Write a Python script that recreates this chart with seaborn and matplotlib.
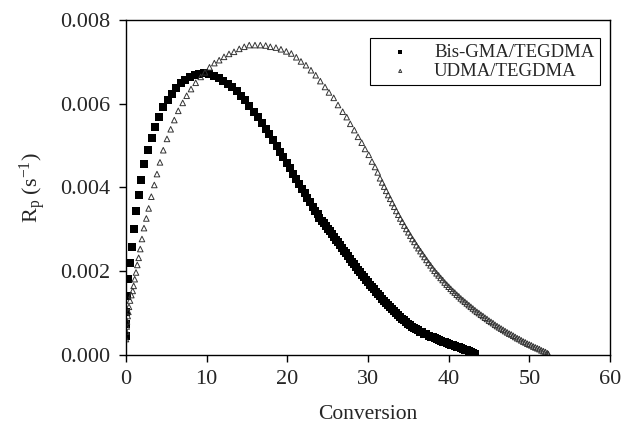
import matplotlib
matplotlib.use("Agg")
import matplotlib.pyplot as plt
import seaborn as sns
import pandas as pd

# Bis-GMA/TEGDMA (filled squares)
bis_conv = [0.02, 0.04, 0.05, 0.12, 0.29, 0.50, 0.71, 0.97, 1.26, 1.59, 1.92, 2.27,
            2.73, 3.19, 3.63, 4.13, 4.62, 5.17, 5.70, 6.20, 6.78, 7.35, 7.93, 8.52,
            9.09, 9.67, 10.33, 10.91, 11.49, 12.06, 12.61, 13.18, 13.72, 14.29, 14.79,
            15.28, 15.83, 16.36, 16.90, 17.32, 17.76, 18.26, 18.72, 19.13, 19.50, 19.92,
            20.29, 20.70, 21.04, 21.45, 21.82, 22.15, 22.47, 22.81, 23.14, 23.47, 23.76,
            23.96,
            24.25, 24.50, 24.75, 25.00, 25.25, 25.50, 25.75, 26.00, 26.25, 26.50, 26.75,
            27.00, 27.25, 27.50, 27.75, 28.00, 28.25, 28.50, 28.75, 29.00, 29.25, 29.50,
            29.75, 30.00, 30.25, 30.50, 30.75, 31.00, 31.25, 31.50, 31.75, 32.00, 32.25,
            32.50, 32.75, 33.00, 33.25, 33.50, 33.75, 34.00, 34.25, 34.50, 34.75, 35.00,
            35.25, 35.50, 35.75, 36.00, 36.25, 36.50, 36.75, 37.00, 37.25, 37.50, 37.75,
            38.00, 38.25, 38.50, 38.75, 39.00, 39.25, 39.50, 39.75, 40.00, 40.25, 40.50,
            40.75, 41.00, 41.25, 41.50, 41.75, 42.00, 42.25, 42.50, 42.75, 43.00, 43.25]
bis_rp = [0.00045, 0.00074, 0.00103, 0.00141, 0.00181, 0.00220, 0.00258, 0.00301,
          0.00344, 0.00382, 0.00418, 0.00456, 0.00490, 0.00518, 0.00544, 0.00568,
          0.00592, 0.00609, 0.00623, 0.00638, 0.00650, 0.00657, 0.00664, 0.00669,
          0.00671, 0.00673, 0.00671, 0.00666, 0.00661, 0.00654, 0.00648, 0.00640,
          0.00630, 0.00618, 0.00609, 0.00595, 0.00580, 0.00568, 0.00554, 0.00540,
          0.00528, 0.00513, 0.00499, 0.00485, 0.00473, 0.00459, 0.00447, 0.00432,
          0.00420, 0.00408, 0.00396, 0.00387, 0.00375, 0.00366, 0.00353, 0.00344,
          0.00337, 0.00327,
          0.00321, 0.00314, 0.00308, 0.00301, 0.00295, 0.00288, 0.00282, 0.00275,
          0.00269, 0.00262, 0.00256, 0.00249, 0.00243, 0.00236, 0.00230, 0.00223,
          0.00217, 0.00211, 0.00204, 0.00198, 0.00192, 0.00186, 0.00180, 0.00174,
          0.00168, 0.00162, 0.00157, 0.00151, 0.00145, 0.00140, 0.00134, 0.00129,
          0.00124, 0.00119, 0.00114, 0.00109, 0.00104, 0.00100, 0.00095, 0.00091,
          0.00087, 0.00083, 0.00079, 0.00075, 0.00072, 0.00068, 0.00065, 0.00062,
          0.00059, 0.00056, 0.00054, 0.00051, 0.00049, 0.00046, 0.00044, 0.00042,
          0.00040, 0.00038, 0.00036, 0.00034, 0.00032, 0.00030, 0.00029, 0.00027,
          0.00025, 0.00023, 0.00022, 0.00020, 0.00018, 0.00016, 0.00015, 0.00013,
          0.00011, 0.00009, 0.00007, 0.00005, 0.00002]

# UDMA/TEGDMA (open triangles)
udma_conv = [0.00, 0.04, 0.09, 0.12, 0.21, 0.29, 0.37, 0.50, 0.66, 0.83, 0.95, 1.08,
             1.24, 1.40, 1.57, 1.77, 1.98, 2.23, 2.52, 2.81, 3.14, 3.51, 3.84, 4.21,
             4.62, 5.08, 5.54, 5.99, 6.48, 7.03, 7.52, 8.06, 8.64, 9.26, 9.79, 10.35,
             10.95, 11.55, 12.15, 12.77, 13.39, 14.04, 14.66, 15.28, 15.99, 16.65, 17.32,
             17.89, 18.59, 19.21, 19.87, 20.49, 21.11, 21.69, 22.31, 22.93, 23.52, 24.09,
             24.67, 25.16, 25.75, 26.28, 26.86, 27.36, 27.80, 28.30, 28.76, 29.22, 29.63,
             30.09, 30.49, 30.87, 31.20, 31.49,
             31.75, 32.00, 32.25, 32.50, 32.75, 33.00, 33.25, 33.50, 33.75, 34.00, 34.25,
             34.50, 34.75, 35.00, 35.25, 35.50, 35.75, 36.00, 36.25, 36.50, 36.75, 37.00,
             37.25, 37.50, 37.75, 38.00, 38.25, 38.50, 38.75, 39.00, 39.25, 39.50, 39.75,
             40.00, 40.25, 40.50, 40.75, 41.00, 41.25, 41.50, 41.75, 42.00, 42.25, 42.50,
             42.75, 43.00, 43.25, 43.50, 43.75, 44.00, 44.25, 44.50, 44.75, 45.00, 45.25,
             45.50, 45.75, 46.00, 46.25, 46.50, 46.75, 47.00, 47.25, 47.50, 47.75, 48.00,
             48.25, 48.50, 48.75, 49.00, 49.25, 49.50, 49.75, 50.00, 50.25, 50.50, 50.75,
             51.00, 51.25, 51.50, 51.75, 52.00, 52.25, 52.35]
udma_rp = [0.00038, 0.00056, 0.00068, 0.00080, 0.00093, 0.00103, 0.00115, 0.00130,
           0.00143, 0.00153, 0.00165, 0.00181, 0.00197, 0.00215, 0.00232, 0.00253,
           0.00277, 0.00303, 0.00326, 0.00350, 0.00378, 0.00406, 0.00432, 0.00460,
           0.00489, 0.00516, 0.00539, 0.00561, 0.00583, 0.00602, 0.00619, 0.00635,
           0.00650, 0.00664, 0.00675, 0.00687, 0.00697, 0.00704, 0.00712, 0.00719,
           0.00724, 0.00731, 0.00736, 0.00740, 0.00740, 0.00740, 0.00739, 0.00736,
           0.00734, 0.00730, 0.00725, 0.00720, 0.00711, 0.00701, 0.00692, 0.00680,
           0.00668, 0.00654, 0.00640, 0.00627, 0.00614, 0.00597, 0.00581, 0.00568,
           0.00552, 0.00537, 0.00521, 0.00507, 0.00492, 0.00478, 0.00462, 0.00449,
           0.00436, 0.00422,
           0.00412, 0.00402, 0.00392, 0.00382, 0.00373, 0.00363, 0.00354, 0.00344,
           0.00335, 0.00326, 0.00318, 0.00309, 0.00301, 0.00293, 0.00285, 0.00277,
           0.00270, 0.00262, 0.00255, 0.00248, 0.00241, 0.00234, 0.00227, 0.00220,
           0.00214, 0.00207, 0.00201, 0.00195, 0.00190, 0.00184, 0.00179, 0.00173,
           0.00168, 0.00163, 0.00158, 0.00153, 0.00149, 0.00144, 0.00140, 0.00135,
           0.00131, 0.00127, 0.00123, 0.00119, 0.00115, 0.00111, 0.00107, 0.00103,
           0.00100, 0.00096, 0.00093, 0.00089, 0.00086, 0.00082, 0.00079, 0.00076,
           0.00072, 0.00069, 0.00066, 0.00063, 0.00060, 0.00057, 0.00054, 0.00051,
           0.00049, 0.00046, 0.00043, 0.00040, 0.00038, 0.00035, 0.00032, 0.00030,
           0.00027, 0.00025, 0.00023, 0.00020, 0.00018, 0.00016, 0.00014, 0.00011,
           0.00009, 0.00007, 0.00004, 0.00002]

x_ticks = [0, 10, 20, 30, 40, 50, 60]
y_ticks = [0.000, 0.002, 0.004, 0.006, 0.008]

sns.set_style("ticks")
plt.rcParams["font.family"] = ["Liberation Serif", "DejaVu Serif"]
plt.rcParams["mathtext.fontset"] = "custom"
plt.rcParams["mathtext.rm"] = "Liberation Serif"
plt.rcParams["mathtext.it"] = "Liberation Serif:italic"

bis = pd.DataFrame({"conv": bis_conv, "rp": bis_rp})
udma = pd.DataFrame({"conv": udma_conv, "rp": udma_rp})

fig = plt.figure(figsize=(6.21, 4.28), dpi=100)
ax = fig.add_axes([0.2029, 0.1706, 0.7794, 0.7827])

sns.scatterplot(data=bis, x="conv", y="rp", marker="s", s=30, color="black",
                edgecolor="black", linewidth=0, label="Bis-GMA/TEGDMA", ax=ax)
sns.scatterplot(data=udma, x="conv", y="rp", marker="^", s=16, facecolor="none",
                edgecolor="0.2", linewidth=0.7, label="UDMA/TEGDMA", ax=ax)

ax.set_xlim(0, 60)
ax.set_ylim(0, 0.008)
ax.set_xticks(x_ticks)
ax.set_yticks(y_ticks)
ax.set_yticklabels([f"{v:.3f}" for v in y_ticks])
ax.tick_params(direction="out", length=5, width=1, labelsize=16, pad=6, color="black")
for sp in ax.spines.values():
    sp.set_visible(True)
    sp.set_color("black")
    sp.set_linewidth(1)

ax.set_xlabel("Conversion", fontsize=15.5, labelpad=11)
ax.set_ylabel(r"R$_\mathrm{p}$ (s$^{-1}$)", fontsize=16, labelpad=9)

leg = ax.legend(loc="upper right", bbox_to_anchor=(0.979, 0.946), borderaxespad=0,
                frameon=True, fancybox=False, framealpha=1, edgecolor="black",
                fontsize=13.5, handlelength=2.6, handletextpad=0.5, markerscale=0.55,
                borderpad=0.3, labelspacing=0.1)
leg.get_frame().set_linewidth(0.8)

fig.savefig("out.png", dpi=100)
